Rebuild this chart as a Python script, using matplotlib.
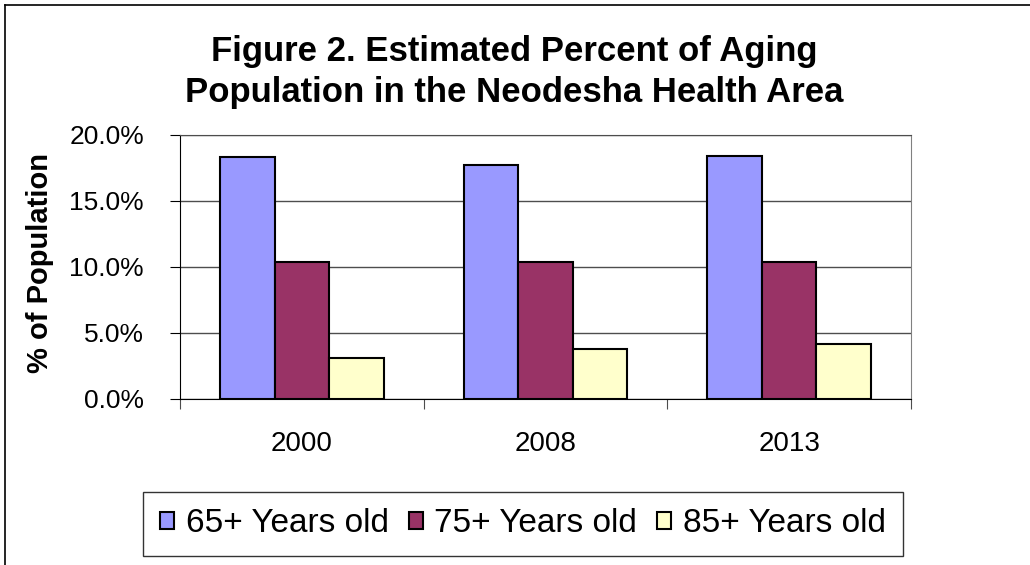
import matplotlib.pyplot as plt
import numpy as np
from matplotlib.lines import Line2D
from matplotlib.ticker import PercentFormatter

plt.rcParams['font.family'] = ['Liberation Sans', 'DejaVu Sans']

years = ['2000', '2008', '2013']
series_names = ['65+ Years old', '75+ Years old', '85+ Years old']
pct_65 = [18.3, 17.7, 18.4]
pct_75 = [10.4, 10.4, 10.4]
pct_85 = [3.1, 3.8, 4.2]
colors = ['#9999FF', '#993366', '#FFFFCC']

W, H = 1030, 565
fig = plt.figure(figsize=(W / 100, H / 100), dpi=100)

# plot area placed in pixel terms
ax = fig.add_axes([180 / W, 1 - 399 / H, 731 / W, 264 / H])

x = np.arange(len(years))
bw = 0.2235
for i, (vals, name, c) in enumerate(zip([pct_65, pct_75, pct_85], series_names, colors)):
    ax.bar(x + (i - 1) * bw, vals, bw, color=c, edgecolor='black',
           linewidth=1.5, label=name, zorder=3)

ax.set_xlim(-0.5, len(years) - 0.5)
ax.set_ylim(0, 20)
ax.set_yticks(np.arange(0, 20.1, 5))
ax.yaxis.set_major_formatter(PercentFormatter(decimals=1))
ax.grid(axis='y', color='#4d4d4d', linewidth=1, zorder=0)

# ticks between categories, labels centred under groups
ax.set_xticks(np.arange(-0.5, len(years), 1))
ax.set_xticklabels([])
ax.set_xticks(x, minor=True)
ax.set_xticklabels(years, minor=True, fontsize=20)
ax.tick_params(axis='x', which='major', length=7, color='#4d4d4d', direction='out')
ax.tick_params(axis='x', which='minor', length=0, pad=23)
ax.tick_params(axis='y', length=7, direction='out', labelsize=19, pad=19)

ax.spines['left'].set_color('black')
ax.spines['bottom'].set_color('black')
ax.spines['top'].set_color('#4d4d4d')
ax.spines['right'].set_color('#808080')

fig.text(40 / W, 1 - 263 / H, '% of Population', rotation=90,
         ha='center', va='center', fontsize=21, fontweight='bold')

fig.text(514 / W, 1 - 72 / H,
         'Figure 2. Estimated Percent of Aging\nPopulation in the Neodesha Health Area',
         ha='center', va='center', fontsize=25, fontweight='bold', linespacing=1.3)

leg = fig.legend(loc='center', bbox_to_anchor=(523 / W, 1 - 524 / H), ncol=3,
                 fontsize=24, frameon=True, fancybox=False, edgecolor='black',
                 handlelength=0.42, handleheight=0.42, handletextpad=0.35,
                 columnspacing=0.6, borderpad=0.5, borderaxespad=0)
leg.get_frame().set_linewidth(1)

# outer chart border (left and top visible)
fig.add_artist(Line2D([5 / W, 5 / W], [0, 1 - 5 / H], color='black', lw=1.2))
fig.add_artist(Line2D([5 / W, 1], [1 - 5 / H, 1 - 5 / H], color='black', lw=1.2))

fig.savefig('out.png', dpi=100)
